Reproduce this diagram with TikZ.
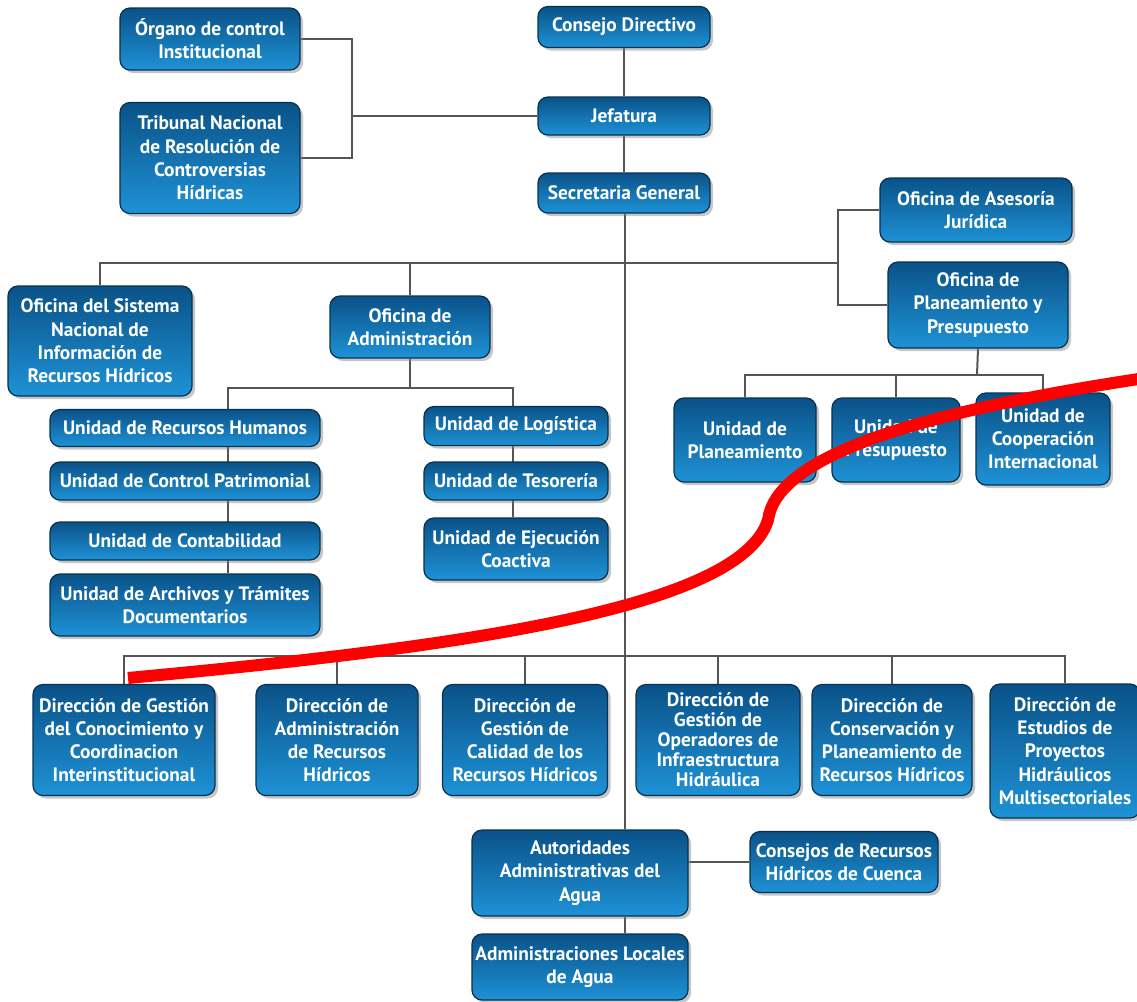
\documentclass[tikz,border=0pt]{standalone}
\usepackage{fontspec}
\setmainfont{PT Sans}
\usetikzlibrary{shadows,backgrounds}
\definecolor{boxtop}{HTML}{0A5288}
\definecolor{boxbot}{HTML}{1E92D6}
\definecolor{linegray}{HTML}{555555}
\begin{document}
\begin{tikzpicture}[x=0.5pt, y=-0.5pt,
    unit/.style n args={2}{draw=boxtop!60!black, line width=0.6pt, rounded corners=5pt,
        top color=boxtop, bottom color=boxbot, text=white, align=center, inner sep=1pt,
        font=\fontsize{9.7}{11.6}\selectfont\bfseries,
        minimum width=#1*0.5pt, minimum height=#2*0.5pt,
        drop shadow={shadow xshift=1.5pt, shadow yshift=-1.5pt, opacity=0.45}},
    link/.style={draw=linegray, line width=1pt}]
    \useasboundingbox (0,0) rectangle (1137,1002);
    % top of the chart
    \node[unit={180}{62}] (oci) at (210,39) {Órgano de control\\Institucional};
    \node[unit={180}{111}] (tnr) at (210,158) {Tribunal Nacional\\de Resolución de\\Controversias\\Hídricas};
    \node[unit={172}{41}] (cd) at (624,27) {Consejo Directivo};
    \node[unit={172}{38}] (jef) at (624,116) {Jefatura};
    \node[unit={172}{40}] (sg) at (624,193) {Secretaria General};
    \node[unit={192}{64}] (oaj) at (976,210) {Oficina de Asesoría\\Jurídica};
    \node[unit={180}{86}] (opp) at (978,305) {Oficina de\\Planeamiento y\\Presupuesto};
    \node[unit={184}{110}] (osn) at (100,341) {Oficina del Sistema\\Nacional de\\Información de\\Recursos Hídricos};
    \node[unit={160}{62}] (oad) at (410,327) {Oficina de\\Administración};
    % units under the offices
    \node[unit={270}{37}] (urh) at (185,428) {Unidad de Recursos Humanos};
    \node[unit={270}{38}] (ucp) at (185,481) {Unidad de Control Patrimonial};
    \node[unit={270}{38}] (uco) at (185,541) {Unidad de Contabilidad};
    \node[unit={270}{62}] (uat) at (185,605) {Unidad de Archivos y Trámites\\Documentarios};
    \node[unit={184}{39}] (ulo) at (516,426) {Unidad de Logística};
    \node[unit={184}{38}] (ute) at (516,481) {Unidad de Tesorería};
    \node[unit={184}{62}] (uej) at (516,549) {Unidad de Ejecución\\Coactiva};
    \node[unit={142}{84}] (upl) at (745,440) {Unidad de\\Planeamiento};
    \node[unit={128}{84}] (upr) at (896,440) {Unidad de\\Presupuesto};
    \node[unit={134}{92}] (uci) at (1043,439) {Unidad de\\Cooperación\\Internacional};
    % direcciones
    \node[unit={182}{111}] (dgc) at (124,740) {Dirección de Gestión\\del Conocimiento y\\Coordinacion\\Interinstitucional};
    \node[unit={162}{111}] (dar) at (337,740) {Dirección de\\Administración\\de Recursos\\Hídricos};
    \node[unit={165}{111}] (dca) at (525,740) {Dirección de\\Gestión de\\Calidad de los\\Recursos Hídricos};
    \node[unit={164}{111}, font=\fontsize{9.7}{10}\selectfont\bfseries] (dop) at (718,740) {Dirección de\\Gestión de\\Operadores de\\Infraestructura\\Hidráulica};
    \node[unit={160}{111}] (dcp) at (892,740) {Dirección de\\Conservación y\\Planeamiento de\\Recursos Hídricos};
    \node[unit={150}{134}] (dep) at (1065,751) {Dirección de\\Estudios de\\Proyectos\\Hidráulicos\\Multisectoriales};
    \node[unit={216}{86}] (aaa) at (580,873) {Autoridades\\Administrativas del\\Agua};
    \node[unit={188}{61}] (crh) at (844,862) {Consejos de Recursos\\Hídricos de Cuenca};
    \node[unit={216}{66}] (ala) at (580,967) {Administraciones Locales\\de Agua};
    % joints
    \coordinate (jk) at (352,116);
    \coordinate (br) at (838,263);
    \coordinate (adl) at (228,388);
    \coordinate (adr) at (513,388);
    \coordinate (pl) at (977,375);
    \coordinate (r3) at (625,656);
    \begin{scope}[on background layer]
        \draw[link] (oci.east) -| (jk) |- (tnr.east);
        \draw[link] (jk) -- (jef.west);
        \draw[link] (cd) -- (jef) -- (sg);
        \draw[link] (sg.south -| r3) -- (aaa.north -| r3);
        \draw[link] (aaa.south -| r3) -- (ala.north -| r3);
        \draw[link] (osn.north) |- (br);
        \draw[link] (oad.north) -- (oad.north |- br);
        \draw[link] (oaj.west) -| (br) |- (opp.west);
        \draw[link] (oad.south) -- (oad.south |- adl);
        \draw[link] (adl |- uat.north) -- (adl) -- (adr) -- (adr |- uej.north);
        \draw[link] (opp.south) -- (pl);
        \draw[link] (upl.north) |- (pl) -| (uci.north);
        \draw[link] (upr.north) -- (upr.north |- pl);
        \draw[link] (dgc.north) |- (r3) -| (dep.north);
        \foreach \d in {dar,dca,dop,dcp}
            \draw[link] (\d.north) -- (\d.north |- r3);
        \draw[link] (crh.west) -- (crh.west -| aaa.east);
    \end{scope}
    % red stroke over the chart
    \draw[red, line width=6pt] (128,678) .. controls (450,648) and (740,610) .. (768,520)
        .. controls (776,460) and (900,415) .. (1145,378);
\end{tikzpicture}
\end{document}
